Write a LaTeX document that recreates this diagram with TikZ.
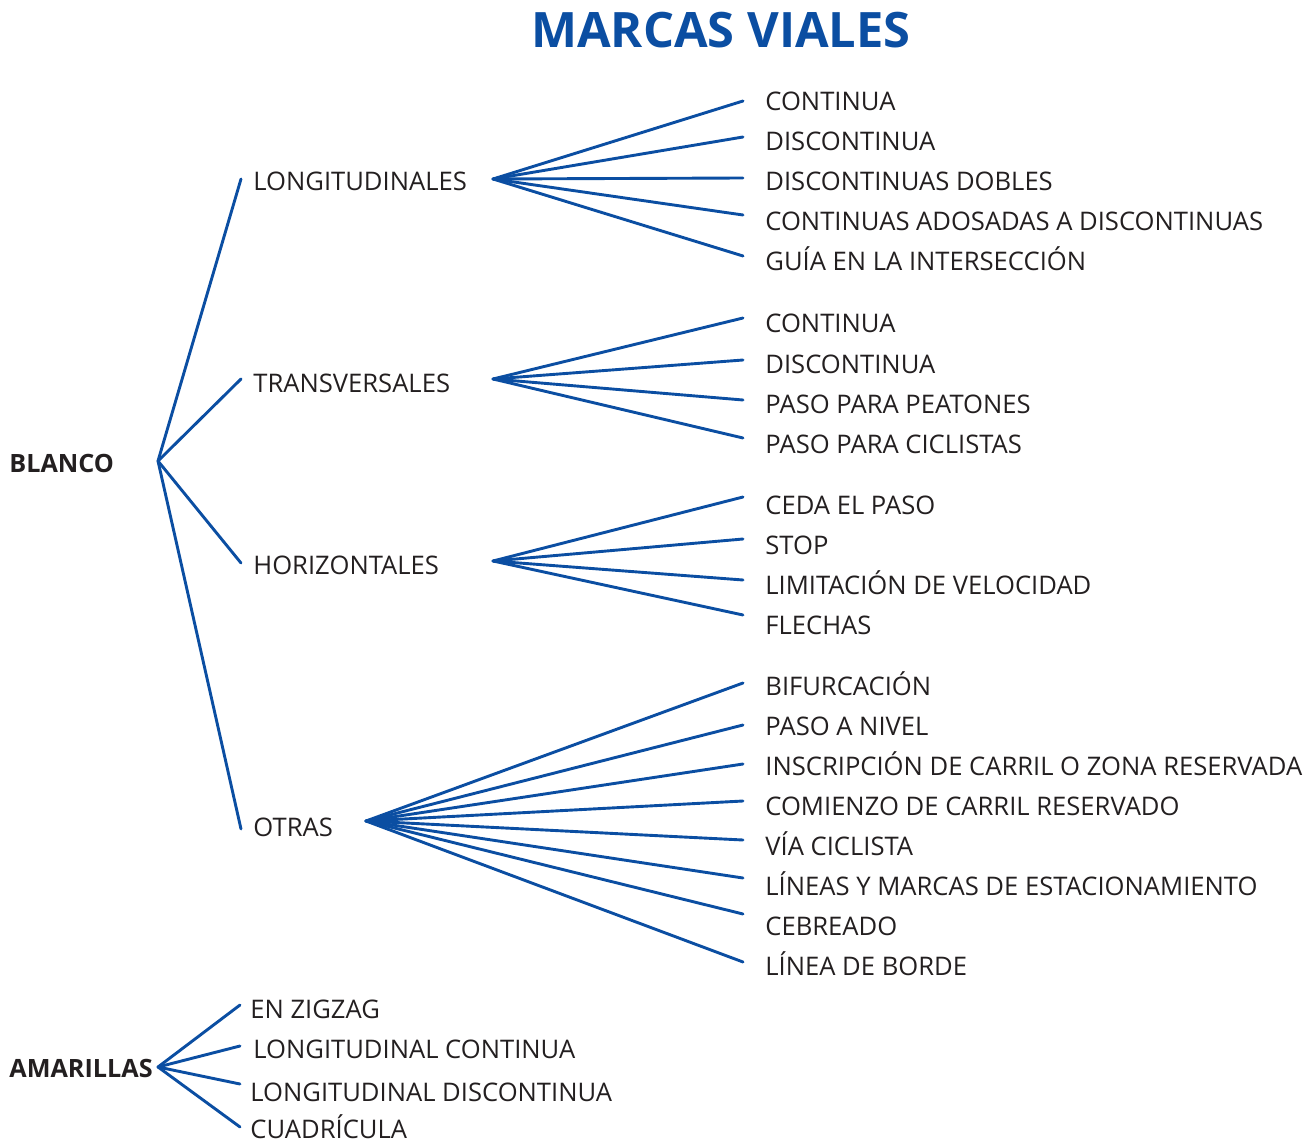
\documentclass[tikz,border=0pt]{standalone}
\usepackage{fontspec}
\setmainfont{Open Sans}
\definecolor{mblue}{HTML}{0B4EA2}
\definecolor{txt}{HTML}{231F20}
\begin{document}
\begin{tikzpicture}[x=0.5pt,y=-0.5pt,
  lbl/.style={anchor=base west, inner sep=0pt, text=txt, font=\fontsize{12.8}{15}\selectfont},
  root/.style={anchor=base west, inner sep=0pt, text=txt, font=\fontsize{12.6}{15}\selectfont\bfseries},
  conn/.style={draw=mblue, line width=1.45pt, line cap=round, line join=round}]
\useasboundingbox (0,0) rectangle (1316,1144);
\node[anchor=base, inner sep=0pt, text=mblue, font=\fontsize{24.4}{29}\selectfont\bfseries] (title) at (721,48) {MARCAS VIALES};
% roots
\node[root] (blanco) at (9,472) {BLANCO};
\node[root] (amar) at (9,1077) {AMARILLAS};
\coordinate (hb) at (158,461);
\coordinate (ha) at (158,1067);
% second level
\node[lbl] (lon) at (253,191) {LONGITUDINALES};
\node[lbl] (tra) at (253,393) {TRANSVERSALES};
\node[lbl] (hor) at (253,574) {HORIZONTALES};
\node[lbl] (otr) at (253,836) {OTRAS};
\coordinate (elon) at (241,179);
\coordinate (etra) at (241,379);
\coordinate (ehor) at (241,563);
\coordinate (eotr) at (241,829);
\draw[conn] (elon) -- (hb) -- (eotr);
\draw[conn] (etra) -- (hb) -- (ehor);
% hubs
\coordinate (hlon) at (493,179);
\coordinate (htra) at (493,379);
\coordinate (hhor) at (493,561);
\coordinate (hotr) at (366,821);
% longitudinales
\node[lbl] (l1) at (765,111) {CONTINUA};
\node[lbl] (l2) at (765,151) {DISCONTINUA};
\node[lbl] (l3) at (765,191) {DISCONTINUAS DOBLES};
\node[lbl] (l4) at (765,231) {CONTINUAS ADOSADAS A DISCONTINUAS};
\node[lbl] (l5) at (765,271) {GUÍA EN LA INTERSECCIÓN};
\foreach \n/\y in {1/101,2/137,3/178,4/215,5/256}{
  \coordinate (el\n) at (743,\y);
  \draw[conn] (hlon) -- (el\n);
}
% transversales
\node[lbl] (t1) at (765,333) {CONTINUA};
\node[lbl] (t2) at (765,373) {DISCONTINUA};
\node[lbl] (t3) at (765,413) {PASO PARA PEATONES};
\node[lbl] (t4) at (765,453) {PASO PARA CICLISTAS};
\foreach \n/\y in {1/318,2/360,3/400,4/438}{
  \coordinate (et\n) at (743,\y);
  \draw[conn] (htra) -- (et\n);
}
% horizontales
\node[lbl] (h1) at (765,514) {CEDA EL PASO};
\node[lbl] (h2) at (765,554) {STOP};
\node[lbl] (h3) at (765,594) {LIMITACIÓN DE VELOCIDAD};
\node[lbl] (h4) at (765,634) {FLECHAS};
\foreach \n/\y in {1/497,2/539,3/580,4/615}{
  \coordinate (eh\n) at (743,\y);
  \draw[conn] (hhor) -- (eh\n);
}
% otras
\node[lbl] (o1) at (765,695) {BIFURCACIÓN};
\node[lbl] (o2) at (765,735) {PASO A NIVEL};
\node[lbl] (o3) at (765,775) {INSCRIPCIÓN DE CARRIL O ZONA RESERVADA};
\node[lbl] (o4) at (765,815) {COMIENZO DE CARRIL RESERVADO};
\node[lbl] (o5) at (765,855) {VÍA CICLISTA};
\node[lbl] (o6) at (765,895) {LÍNEAS Y MARCAS DE ESTACIONAMIENTO};
\node[lbl] (o7) at (765,935) {CEBREADO};
\node[lbl] (o8) at (765,975) {LÍNEA DE BORDE};
\foreach \n/\y in {1/683,2/725,3/764,4/801,5/840,6/878,7/914,8/962}{
  \coordinate (eo\n) at (743,\y);
  \draw[conn] (hotr) -- (eo\n);
}
% amarillas
\node[lbl] (a1) at (250,1018) {EN ZIGZAG};
\node[lbl] (a2) at (253,1058) {LONGITUDINAL CONTINUA};
\node[lbl] (a3) at (250,1101) {LONGITUDINAL DISCONTINUA};
\node[lbl] (a4) at (250,1138) {CUADRÍCULA};
\foreach \n/\y in {1/1005,2/1046,3/1084,4/1127}{
  \coordinate (ea\n) at (240,\y);
  \draw[conn] (ha) -- (ea\n);
}
\end{tikzpicture}
\end{document}
